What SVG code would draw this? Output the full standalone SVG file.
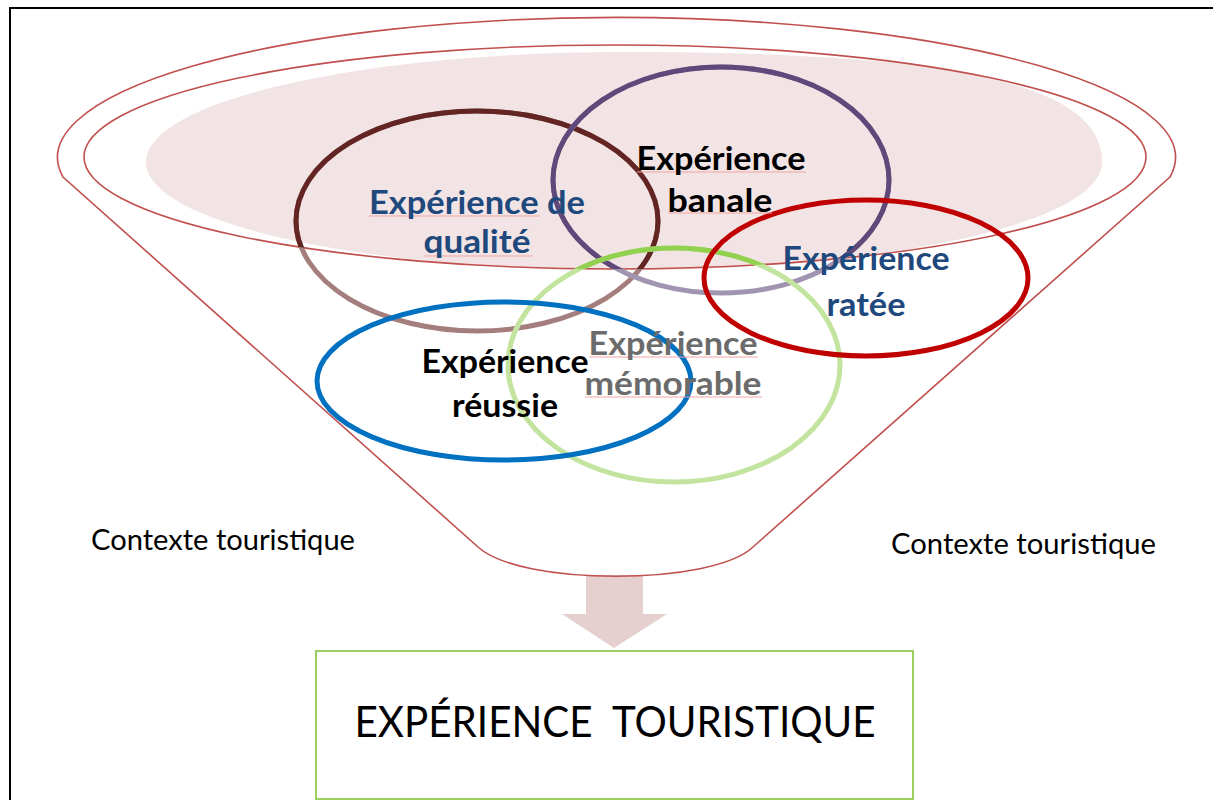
<svg xmlns="http://www.w3.org/2000/svg" width="1213" height="800" viewBox="0 0 1213 800">
<style>
.fun{fill:none;stroke:#c0504d;stroke-width:1.6}
.ring{fill:none;stroke-width:5}
.lbl{font-family:Lato,"Open Sans","Liberation Sans",sans-serif;font-weight:bold;font-size:33px;text-anchor:middle}
.blue{fill:#1f497d}
.blk{fill:#000}
.gray{fill:#6b6b6b}
.ctx{font-family:Lato,"Open Sans","Liberation Sans",sans-serif;font-size:28px;fill:#000}
.sq{stroke:#f3a3a3;stroke-width:1}
</style>
<defs>
<clipPath id="inner"><ellipse cx="615" cy="157" rx="531" ry="112"/></clipPath>
</defs>
<rect width="1213" height="800" fill="#fff"/>
<g id="frame" stroke="#000" stroke-width="2">
<line x1="10" y1="8" x2="1213" y2="8"/>
<line x1="10" y1="7" x2="10" y2="800"/>
</g>
<g id="connectors">
<polygon points="586,575 643,575 643,614 667,614 614,648 562,614 586,614" fill="#e6cfcf"/>
</g>
<g id="funnel">
<path d="M146,162 C146,101 360,52 624,52 C959,52 1102,85 1102,162 C1102,223 888,270 624,270 C360,270 146,223 146,162 Z" fill="#f2e4e4"/>
<path class="fun" d="M63,177 A559,140 0 1 1 1170,177 L753,547 C712,586 520,586 478,547 Z"/>
<ellipse class="fun" cx="615" cy="157" rx="531" ry="112"/>
</g>
<g id="qualite">
<ellipse class="ring" cx="477" cy="221" rx="181" ry="110" stroke="#a37e7c"/>
<ellipse class="ring" cx="477" cy="221" rx="181" ry="110" stroke="#632523" clip-path="url(#inner)"/>
</g>
<g id="banale">
<ellipse class="ring" cx="721" cy="180" rx="168" ry="113" stroke="#a194b1"/>
<ellipse class="ring" cx="721" cy="180" rx="168" ry="113" stroke="#5f497a" clip-path="url(#inner)"/>
</g>
<g id="memorable">
<ellipse class="ring" cx="674" cy="365" rx="166" ry="117" stroke="#c3e49e"/>
<ellipse class="ring" cx="674" cy="365" rx="166" ry="117" stroke="#92d050" clip-path="url(#inner)"/>
</g>
<g id="reussie">
<ellipse class="ring" cx="504" cy="381" rx="187" ry="79" stroke="#0070c0"/>
</g>
<g id="ratee">
<ellipse class="ring" cx="866" cy="278" rx="162" ry="78" stroke="#c00000"/>
</g>
<g id="labels">
<line class="sq" x1="369" y1="216" x2="540" y2="216"/>
<line class="sq" x1="424" y1="256" x2="533" y2="256"/>
<line class="sq" x1="637" y1="172" x2="806" y2="172"/>
<line class="sq" x1="668" y1="213" x2="772" y2="213"/>
<line class="sq" x1="589" y1="357" x2="758" y2="357"/>
<line class="sq" x1="585" y1="397" x2="762" y2="397"/>
<text class="lbl blue" x="477" y="214" textLength="216" lengthAdjust="spacingAndGlyphs">Expérience de</text>
<text class="lbl blue" x="477" y="253" textLength="107" lengthAdjust="spacingAndGlyphs">qualité</text>
<text class="lbl blk" x="721" y="170" textLength="169" lengthAdjust="spacingAndGlyphs">Expérience</text>
<text class="lbl blk" x="720" y="212" textLength="105" lengthAdjust="spacingAndGlyphs">banale</text>
<text class="lbl blue" x="866" y="270" textLength="167" lengthAdjust="spacingAndGlyphs">Expérience</text>
<text class="lbl blue" x="866" y="316" textLength="79" lengthAdjust="spacingAndGlyphs">ratée</text>
<text class="lbl gray" x="673" y="355" textLength="169" lengthAdjust="spacingAndGlyphs">Expérience</text>
<text class="lbl gray" x="673" y="395" textLength="177" lengthAdjust="spacingAndGlyphs">mémorable</text>
<text class="lbl blk" x="505" y="373" textLength="167" lengthAdjust="spacingAndGlyphs">Expérience</text>
<text class="lbl blk" x="505" y="417" textLength="106" lengthAdjust="spacingAndGlyphs">réussie</text>
</g>
<g id="contexte-gauche">
<text class="ctx" x="91" y="550" textLength="264" lengthAdjust="spacingAndGlyphs">Contexte touristique</text>
</g>
<g id="contexte-droite">
<text class="ctx" x="891" y="554" textLength="265" lengthAdjust="spacingAndGlyphs">Contexte touristique</text>
</g>
<g id="experience-touristique">
<rect x="316" y="651" width="597" height="148" fill="#fff" stroke="#9bcf5f" stroke-width="2"/>
<text x="615" y="737" text-anchor="middle" style="white-space:pre" font-family="Lato,'Open Sans','Liberation Sans',sans-serif" font-size="43" fill="#000" textLength="521" lengthAdjust="spacingAndGlyphs">EXPÉRIENCE  TOURISTIQUE</text>
</g>
</svg>
